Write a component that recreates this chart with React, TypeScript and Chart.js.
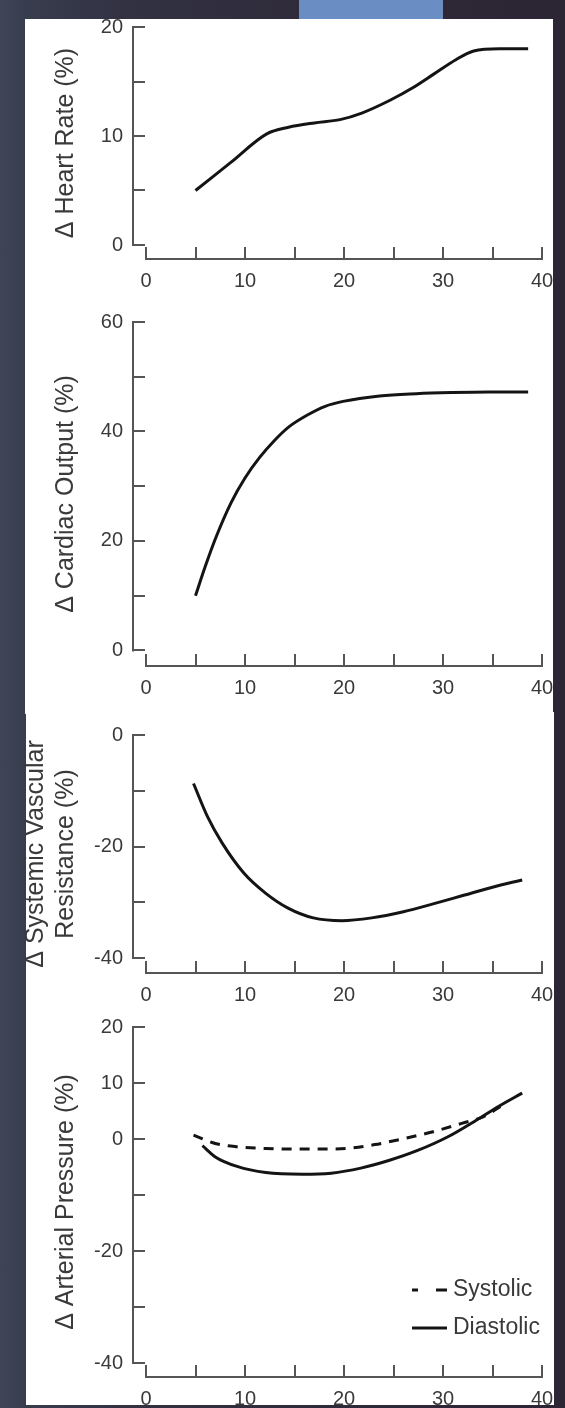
import React, { useEffect, useRef } from 'react';
import { Chart, registerables } from 'chart.js';

Chart.register(...registerables);

// ---------- data ----------
const xTicks = [0, 5, 10, 15, 20, 25, 30, 35, 40];
const xTickLabels = [0, 10, 20, 30, 40];

const hrX = [5, 8.6, 12.2, 14.4, 17, 19.6, 21.8, 24.7, 26.9, 29.1, 31.3, 33.1, 35.7, 38.6];
const hrY = [5, 7.6, 10.2, 10.8, 11.2, 11.5, 12.1, 13.3, 14.4, 15.7, 17.0, 17.8, 18.0, 18.0];
const hrTicks = [0, 5, 10, 15, 20];
const hrTickLabels = [0, 10, 20];

const coX = [5, 6, 7.1, 8.6, 10, 11.5, 13, 14.4, 16.3, 18.1, 19.9, 23.6, 27.3, 30.9, 34.6, 38.6];
const coY = [10, 15.4, 20.8, 27.0, 31.5, 35.3, 38.4, 40.8, 43.0, 44.6, 45.5, 46.5, 46.9, 47.1, 47.2, 47.2];
const coTicks = [0, 10, 20, 30, 40, 50, 60];
const coTickLabels = [0, 20, 40, 60];

const svrX = [4.8, 6.2, 7.7, 9.9, 12.1, 14.3, 16.9, 19.8, 22.8, 26, 29, 32, 35, 38];
const svrY = [-8.7, -14.6, -19.4, -24.8, -28.4, -31, -32.8, -33.3, -32.8, -31.7, -30.3, -28.8, -27.3, -26];
const svrTicks = [-40, -30, -20, -10, 0];
const svrTickLabels = [-40, -20, 0];

const sysX = [4.8, 7, 9.2, 12.1, 15, 18, 20.2, 23.1, 26.1, 29, 31.9, 34.1, 35.8];
const sysY = [0.7, -0.8, -1.4, -1.7, -1.8, -1.8, -1.7, -1.0, 0.1, 1.3, 2.8, 4.0, 5.8];
const diaX = [5.7, 7, 9.2, 12.1, 15.8, 18.7, 21.7, 24.6, 27.5, 30.5, 33.4, 35.6, 38];
const diaY = [-1.2, -3.2, -4.9, -6.0, -6.3, -6.1, -5.2, -3.8, -2.0, 0.4, 3.4, 5.8, 8.2];
const apTicks = [-40, -30, -20, -10, 0, 10, 20];
const apTickLabels = [-40, -20, 0, 10, 20];

const seriesNames = ['Systolic', 'Diastolic'];

// ---------- styling / layout ----------
const FONT = "'Liberation Sans', Arial, Helvetica, sans-serif";
const TEXT = '#3a3a3a';
const AXIS = '#555555';
const LINE = '#141414';
const W = 565;
const X0_PX = 146; // pixel of x = 0
const X40_PX = 542; // pixel of x = 40
const YAXIS_PX = 133; // pixel of the y axis line

const pts = (xs: number[], ys: number[]) => xs.map((x, i) => ({ x, y: ys[i] }));

type PanelCfg = {
  top: number;
  height: number;
  title: string | string[];
  titlePad: number;
  yTicks: number[];
  yLabels: number[];
  topPx: number;
  lowPx: number;
  axisPx: number;
  datasets: any[];
  legend?: boolean;
};

const lineDs = (label: string, data: any[], dash?: number[]) => ({
  label,
  data,
  borderColor: LINE,
  backgroundColor: LINE,
  borderWidth: 3,
  borderDash: dash || [],
  pointRadius: 0,
  fill: false,
  tension: 0.4,
  cubicInterpolationMode: 'monotone',
});

const panels: PanelCfg[] = [
  {
    top: 0, height: 300, title: '\u0394 Heart Rate (%)', titlePad: 51,
    yTicks: hrTicks, yLabels: hrTickLabels, topPx: 27, lowPx: 245, axisPx: 259,
    datasets: [lineDs('Heart Rate', pts(hrX, hrY))],
  },
  {
    top: 300, height: 412, title: '\u0394 Cardiac Output (%)', titlePad: 51,
    yTicks: coTicks, yLabels: coTickLabels, topPx: 313, lowPx: 650, axisPx: 666,
    datasets: [lineDs('Cardiac Output', pts(coX, coY))],
  },
  {
    top: 712, height: 293, title: ['\u0394 Systemic Vascular', 'Resistance (%)'], titlePad: 21,
    yTicks: svrTicks, yLabels: svrTickLabels, topPx: 735, lowPx: 958, axisPx: 973,
    datasets: [lineDs('SVR', pts(svrX, svrY))],
  },
  {
    top: 1005, height: 400, title: '\u0394 Arterial Pressure (%)', titlePad: 51,
    yTicks: apTicks, yLabels: apTickLabels, topPx: 1027, lowPx: 1363, axisPx: 1377,
    datasets: [
      lineDs(seriesNames[0], pts(sysX, sysY), [10, 8]),
      lineDs(seriesNames[1], pts(diaX, diaY)),
    ],
    legend: true,
  },
];

const TICK = 11;

const axesPlugin = {
  id: 'prismAxes',
  beforeDatasetsDraw(chart: any) {
    const { ctx, chartArea, scales } = chart;
    const x = scales.x;
    const y = scales.y;
    ctx.save();
    ctx.strokeStyle = AXIS;
    ctx.lineWidth = 2;
    ctx.lineCap = 'square';
    ctx.beginPath();
    const xv = x.ticks.map((t: any) => t.value);
    const by = Math.round(chartArea.bottom);
    ctx.moveTo(x.getPixelForValue(xv[0]), by);
    ctx.lineTo(x.getPixelForValue(xv[xv.length - 1]), by);
    xv.forEach((v: number) => {
      const px = Math.round(x.getPixelForValue(v));
      ctx.moveTo(px, by);
      ctx.lineTo(px, by - TICK);
    });
    const yv = y.ticks.map((t: any) => t.value);
    const lx = Math.round(chartArea.left);
    ctx.moveTo(lx, y.getPixelForValue(Math.min(...yv)));
    ctx.lineTo(lx, y.getPixelForValue(Math.max(...yv)));
    yv.forEach((v: number) => {
      const py = Math.round(y.getPixelForValue(v));
      ctx.moveTo(lx, py);
      ctx.lineTo(lx + TICK, py);
    });
    ctx.stroke();
    ctx.restore();
  },
};

const cornerLegend = {
  id: 'cornerLegend',
  afterDraw(chart: any, _args: any, opts: any) {
    if (!opts || !opts.show) return;
    const { ctx, chartArea } = chart;
    ctx.save();
    chart.data.datasets.forEach((ds: any, i: number) => {
      const yy = chartArea.bottom - 87 + i * 38;
      const xs = chartArea.right - 130;
      const xe = chartArea.right - 95;
      ctx.strokeStyle = ds.borderColor;
      ctx.lineWidth = ds.borderWidth;
      ctx.setLineDash(ds.borderDash && ds.borderDash.length ? [6, 18, 11, 10] : []);
      ctx.beginPath();
      ctx.moveTo(xs, yy);
      ctx.lineTo(xe, yy);
      ctx.stroke();
      ctx.setLineDash([]);
      ctx.fillStyle = TEXT;
      ctx.font = `23px ${FONT}`;
      ctx.textBaseline = 'middle';
      ctx.textAlign = 'left';
      ctx.fillText(ds.label, chartArea.right - 89, yy);
    });
    ctx.restore();
  },
};

function PanelChart({ cfg }: { cfg: PanelCfg }) {
  const ref = useRef<HTMLCanvasElement>(null);
  useEffect(() => {
    if (!ref.current) return;
    const yMax = Math.max(...cfg.yTicks);
    const yLow = Math.min(...cfg.yTicks);
    const perUnit = (cfg.lowPx - cfg.topPx) / (yMax - yLow);
    const yMin = yLow - (cfg.axisPx - cfg.lowPx) / perUnit;
    const xPer = (X40_PX - X0_PX) / 40;
    const xMin = -(X0_PX - YAXIS_PX) / xPer;
    const padTop = cfg.topPx - cfg.top;
    const xAxisH = cfg.top + cfg.height - cfg.axisPx;

    const chart = new Chart(ref.current, {
      type: 'line',
      data: { datasets: cfg.datasets },
      plugins: [axesPlugin, cornerLegend],
      options: {
        responsive: false,
        animation: false,
        devicePixelRatio: 1,
        layout: { padding: { top: padTop, right: W - X40_PX, bottom: 0, left: 0 } },
        plugins: {
          legend: { display: false },
          tooltip: { enabled: false },
          cornerLegend: { show: !!cfg.legend },
        } as any,
        scales: {
          x: {
            type: 'linear',
            min: xMin,
            max: 40,
            afterBuildTicks: (s: any) => {
              s.ticks = xTicks.map((v) => ({ value: v }));
            },
            afterFit: (s: any) => {
              s.height = xAxisH;
            },
            grid: { display: false, drawTicks: false },
            border: { display: false },
            ticks: {
              autoSkip: false,
              maxRotation: 0,
              padding: 10,
              color: TEXT,
              font: { family: FONT, size: 20 },
              callback: (v: any) => (xTickLabels.includes(Number(v)) ? String(v) : ''),
            },
          },
          y: {
            type: 'linear',
            min: yMin,
            max: yMax,
            afterBuildTicks: (s: any) => {
              s.ticks = cfg.yTicks.map((v) => ({ value: v }));
            },
            afterFit: (s: any) => {
              s.width = YAXIS_PX;
            },
            grid: { display: false, drawTicks: false },
            border: { display: false },
            ticks: {
              autoSkip: false,
              padding: 10,
              color: TEXT,
              font: { family: FONT, size: 20 },
              callback: (v: any) => (cfg.yLabels.includes(Number(v)) ? String(v) : ''),
            },
            title: {
              display: true,
              text: cfg.title,
              color: TEXT,
              font: { family: FONT, size: 25, lineHeight: 1.2 },
              padding: { top: cfg.titlePad, bottom: 0 },
            },
          },
        },
      } as any,
    });
    return () => chart.destroy();
  }, [cfg]);
  return (
    <div style={{ position: 'absolute', left: 0, top: cfg.top, width: W, height: cfg.height }}>
      <canvas ref={ref} width={W} height={cfg.height} style={{ display: 'block' }} />
    </div>
  );
}

export default function App() {
  return (
    <div
      style={{
        position: 'absolute',
        left: 0,
        top: 0,
        width: W,
        height: 1408,
        overflow: 'hidden',
        background:
          'linear-gradient(90deg, #3e4656 0px, #383d4e 25px, #323243 120px, #2f2b3b 300px, #2c2533 565px)',
      }}
    >
      <div style={{ position: 'absolute', left: 299, top: 0, width: 144, height: 19, background: '#6a8ec4' }} />
      <div style={{ position: 'absolute', left: 25, top: 19, width: 528, height: 695, background: '#ffffff' }} />
      <div style={{ position: 'absolute', left: 26, top: 712, width: 528, height: 693, background: '#ffffff' }} />
      {panels.map((p, i) => (
        <PanelChart key={i} cfg={p} />
      ))}
    </div>
  );
}
